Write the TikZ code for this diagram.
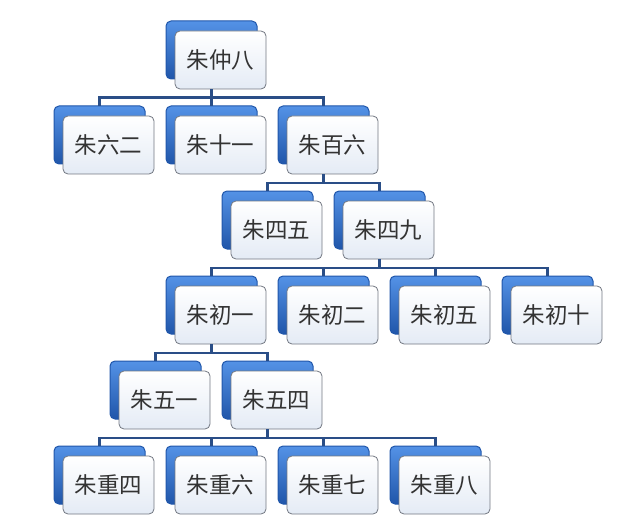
\documentclass[tikz,border=0pt]{standalone}
\usepackage{fontspec}
\newfontfamily\cjk{Noto Sans CJK SC}
\usetikzlibrary{positioning, shadows}
\definecolor{boxblue}{RGB}{84,146,230}
\definecolor{boxblueD}{RGB}{32,86,170}
\definecolor{boxface}{RGB}{228,235,245}
\definecolor{boxedge}{RGB}{115,120,130}
\definecolor{linkblue}{RGB}{42,78,135}

\begin{document}
\begin{tikzpicture}[
    x=1pt, y=-1pt,
    node distance=85pt and 112pt,
    on grid,
    person/.style={rectangle, rounded corners=5pt, minimum width=91pt, minimum height=58pt,
        inner sep=0pt, draw=boxedge, line width=0.8pt, top color=white, bottom color=boxface,
        font=\cjk\fontsize{22.5}{26}\selectfont, text=black!80,
        general shadow={shadow xshift=-9pt, shadow yshift=10pt, draw=boxblueD, line width=1pt,
            top color=boxblue, bottom color=boxblueD}},
    link/.style={line width=2.8pt, draw=linkblue}
]
   \useasboundingbox (0,0) rectangle (640,524);

   % People
   \node[person] (zhongba) at (220.5,60) {朱仲八};
   \node[person] (shiyi) [below=of zhongba] {朱十一};
   \node[person] (liuer) [left=of shiyi] {朱六二};
   \node[person] (bailiu) [right=of shiyi] {朱百六};
   \node[person] (siwu) [below left=85pt and 56pt of bailiu] {朱四五};
   \node[person] (sijiu) [right=of siwu] {朱四九};
   \node[person] (chuer) [below left=85pt and 56pt of sijiu] {朱初二};
   \node[person] (chuyi) [left=of chuer] {朱初一};
   \node[person] (chuwu) [right=of chuer] {朱初五};
   \node[person] (chushi) [right=of chuwu] {朱初十};
   \node[person] (wuyi) [below left=85pt and 56pt of chuyi] {朱五一};
   \node[person] (wusi) [right=of wuyi] {朱五四};
   \node[person] (chongliu) [below left=85pt and 56pt of wusi] {朱重六};
   \node[person] (chongsi) [left=of chongliu] {朱重四};
   \node[person] (chongqi) [right=of chongliu] {朱重七};
   \node[person] (chongba) [right=of chongqi] {朱重八};

   % Lines
   \foreach \p/\c in {zhongba/liuer, zhongba/shiyi, zhongba/bailiu,
                      bailiu/siwu, bailiu/sijiu,
                      sijiu/chuyi, sijiu/chuer, sijiu/chuwu, sijiu/chushi,
                      chuyi/wuyi, chuyi/wusi,
                      wusi/chongsi, wusi/chongliu, wusi/chongqi, wusi/chongba}
      \draw[link] ([xshift=-9pt]\p.south) -- ++(0,8.5) -| ([xshift=-9pt, yshift=10pt]\c.north);
\end{tikzpicture}
\end{document}
